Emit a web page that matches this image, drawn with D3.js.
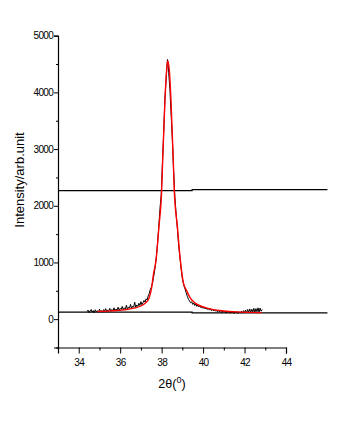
<!DOCTYPE html>
<html>
<head>
<meta charset="utf-8">
<script src="https://cdn.jsdelivr.net/npm/d3@7"></script>
<style>
  html, body { margin: 0; padding: 0; background: #fff; }
  svg { display: block; }
  .tick text { font-family: "Liberation Sans Narrow", "Liberation Sans", Arial, sans-serif; font-size: 10px; letter-spacing: -0.7px; }
</style>
</head>
<body>
<svg id="chart" width="344" height="426"></svg>
<script>
// Measured XRD scan around the (111) reflection
const scanAngle = [
  34.40, 34.45, 34.50, 34.55, 34.60, 34.65, 34.70, 34.75, 34.80, 34.85,
  34.90, 34.95, 35.00, 35.05, 35.10, 35.15, 35.20, 35.25, 35.30, 35.35,
  35.40, 35.45, 35.50, 35.55, 35.60, 35.65, 35.70, 35.75, 35.80, 35.85,
  35.90, 35.95, 36.00, 36.05, 36.10, 36.15, 36.20, 36.25, 36.30, 36.35,
  36.40, 36.45, 36.50, 36.55, 36.60, 36.65, 36.70, 36.75, 36.80, 36.85,
  36.90, 36.95, 37.00, 37.05, 37.10, 37.15, 37.20, 37.25, 37.30, 37.35,
  37.40, 37.45, 37.50, 37.56, 37.62, 37.68, 37.74, 37.80, 37.86, 37.92,
  37.98, 38.04, 38.10, 38.16, 38.22, 38.28, 38.31, 38.34, 38.40, 38.46,
  38.52, 38.58, 38.64, 38.70, 38.76, 38.82, 38.88, 38.94, 39.00, 39.06,
  39.12, 39.18, 39.24, 39.30, 39.35, 39.40, 39.45, 39.50, 39.55, 39.60,
  39.65, 39.70, 39.75, 39.80, 39.85, 39.90, 39.95, 40.00, 40.05, 40.10,
  40.15, 40.20, 40.25, 40.30, 40.35, 40.40, 40.45, 40.50, 40.55, 40.60,
  40.65, 40.70, 40.75, 40.80, 40.85, 40.90, 40.95, 41.00, 41.05, 41.10,
  41.15, 41.20, 41.25, 41.30, 41.35, 41.40, 41.45, 41.50, 41.55, 41.60,
  41.65, 41.70, 41.75, 41.80, 41.85, 41.90, 41.95, 42.00, 42.05, 42.10,
  42.15, 42.20, 42.25, 42.30, 42.35, 42.40, 42.45, 42.50, 42.55, 42.60,
  42.65, 42.70, 42.75, 42.80, 42.85
];
const scanCounts = [
  135, 160, 118, 145, 170, 125, 150, 112, 165, 130,
  148, 120, 175, 135, 150, 122, 168, 140, 185, 130,
  160, 145, 190, 138, 170, 150, 200, 145, 178, 160,
  210, 155, 190, 170, 225, 165, 200, 180, 245, 175,
  215, 195, 260, 190, 230, 210, 300, 205, 250, 225,
  280, 240, 310, 255, 290, 330, 300, 360, 340, 410,
  450, 520, 560, 640, 760, 900, 1080, 1320, 1620, 1950,
  2200, 2750, 3300, 3900, 4250, 4580, 4520, 4350, 4050, 3600,
  3150, 2600, 2150, 1850, 1600, 1300, 1100, 900, 720, 610,
  540, 470, 400, 345, 320, 290, 305, 260, 285, 240,
  270, 225, 250, 215, 245, 200, 230, 190, 215, 180,
  205, 170, 195, 160, 185, 150, 175, 145, 170, 140,
  160, 125, 155, 130, 150, 115, 145, 125, 140, 108,
  135, 115, 140, 105, 130, 110, 138, 100, 125, 108,
  135, 100, 128, 110, 140, 105, 150, 115, 160, 110,
  170, 120, 180, 115, 175, 125, 190, 118, 185, 130,
  200, 120, 195, 140, 170
];

// Fitted profile
const fitAngle = [
  34.90, 35.54, 36.18, 36.67, 36.99, 37.23, 37.39, 37.52, 37.60, 37.73,
  37.87, 38.00, 38.05, 38.16, 38.24, 38.29, 38.37, 38.45, 38.56, 38.61,
  38.76, 38.90, 39.05, 39.21, 39.37, 39.53, 39.69, 40.01, 40.49, 40.98,
  41.62, 42.83
];
const fitCounts = [
  134, 146, 164, 194, 232, 290, 370, 560, 780, 1045,
  1633, 2267, 2809, 3866, 4395, 4554, 4395, 3866, 2809, 2267,
  1633, 1045, 640, 500, 380, 310, 265, 215, 168, 145,
  128, 116
];

// Reference levels: half maximum and background
const halfMaxAngle = [33, 39.47, 39.47, 46];
const halfMaxCounts = [2267, 2267, 2285, 2285];
const baseAngle = [33, 39.47, 39.47, 46];
const baseCounts = [123, 123, 111, 111];

const xMajor = [34, 36, 38, 40, 42, 44];
const xMinor = [33, 35, 37, 39, 41, 43];
const yMajor = [0, 1000, 2000, 3000, 4000, 5000];
const yMinor = [-500, 500, 1500, 2500, 3500, 4500];

const svg = d3.select("#chart");
const x = d3.scaleLinear().domain([33, 44]).range([58, 286]);
const y = d3.scaleLinear().domain([-500, 5000]).range([347.5, 35.7]);

const gx = svg.append("g").attr("transform", `translate(0,${y(-500)})`);
gx.call(d3.axisBottom(x).tickValues(xMajor).tickSize(6).tickPadding(5).tickFormat(d3.format("d")));
gx.append("g").call(d3.axisBottom(x).tickValues(xMinor).tickSize(3).tickFormat(""))
  .select(".domain").remove();

const gy = svg.append("g").attr("transform", `translate(${x(33)},0)`);
gy.call(d3.axisLeft(y).tickValues(yMajor).tickSize(4).tickPadding(1).tickFormat(d3.format("d")));
gy.append("g").call(d3.axisLeft(y).tickValues(yMinor).tickSize(2).tickFormat(""))
  .select(".domain").remove();
svg.selectAll(".domain").attr("stroke-width", 1.2);

const line = d3.line().x(d => x(d[0])).y(d => y(d[1]));
const zip = (a, b) => a.map((v, i) => [v, b[i]]);

svg.append("path").datum(zip(halfMaxAngle, halfMaxCounts))
  .attr("d", line).attr("fill", "none").attr("stroke", "#000").attr("stroke-width", 1.2);
svg.append("path").datum(zip(baseAngle, baseCounts))
  .attr("d", line).attr("fill", "none").attr("stroke", "#000").attr("stroke-width", 1.2);

svg.append("path").datum(zip(scanAngle, scanCounts))
  .attr("d", line).attr("fill", "none").attr("stroke", "#000").attr("stroke-width", 1);
svg.append("path").datum(zip(fitAngle, fitCounts))
  .attr("d", line.curve(d3.curveMonotoneX)).attr("fill", "none").attr("stroke", "#f00").attr("stroke-width", 1.4);

// Axis titles
svg.append("text")
  .attr("transform", "translate(24,180) rotate(-90)")
  .attr("text-anchor", "middle")
  .attr("font-family", "Liberation Sans, Arial, sans-serif")
  .attr("font-size", 13)
  .text("Intensity/arb.unit");

const xt = svg.append("text")
  .attr("x", (x(33) + x(44)) / 2)
  .attr("y", 388)
  .attr("text-anchor", "middle")
  .attr("font-family", "Liberation Sans, Arial, sans-serif")
  .attr("font-size", 12.5);
xt.append("tspan").text("2θ(");
xt.append("tspan").attr("dy", -5).attr("font-size", 9).text("0");
xt.append("tspan").attr("dy", 5).text(")");
</script>
</body>
</html>
